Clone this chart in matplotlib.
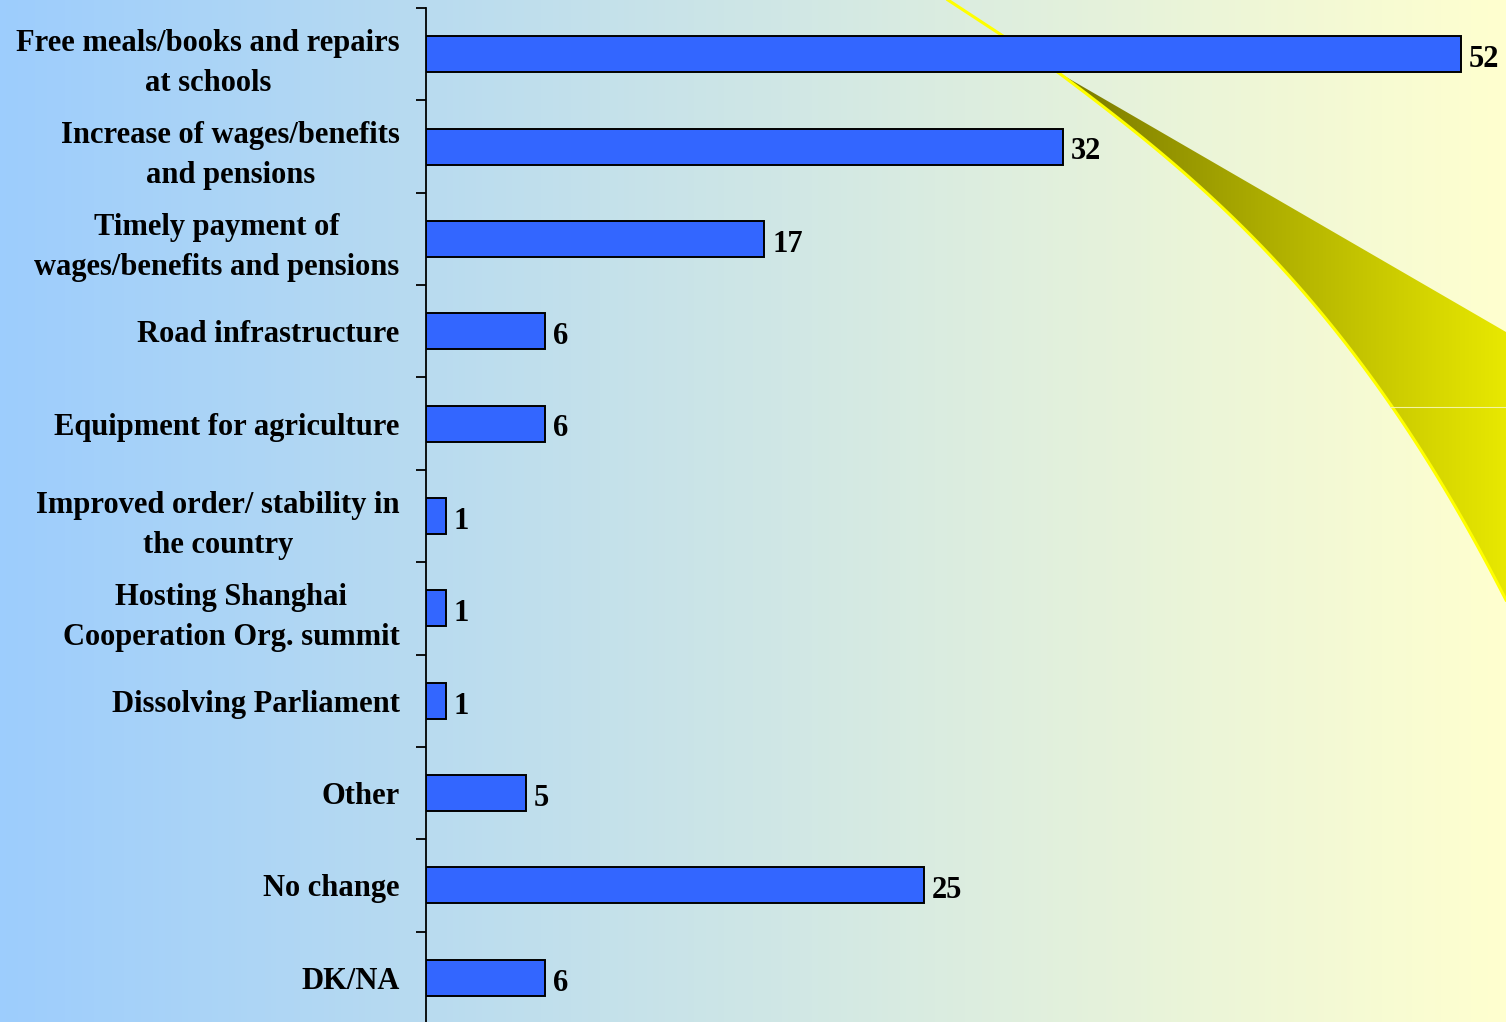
import numpy as np
import matplotlib.pyplot as plt
from matplotlib.colors import LinearSegmentedColormap
from matplotlib.patches import Polygon

# Data
categories = [
    "Free meals/books and repairs\nat schools",
    "Increase of wages/benefits\nand pensions",
    "Timely payment of\nwages/benefits and pensions",
    "Road infrastructure",
    "Equipment for agriculture",
    "Improved order/ stability in\nthe country",
    "Hosting Shanghai\nCooperation Org. summit",
    "Dissolving Parliament",
    "Other",
    "No change",
    "DK/NA",
]
values = [52, 32, 17, 6, 6, 1, 1, 1, 5, 25, 6]

W, H = 1506, 1022
fig = plt.figure(figsize=(W / 100, H / 100), dpi=100)

# background: horizontal gradient light blue -> pale yellow
bg = fig.add_axes([0, 0, 1, 1])
bg_cmap = LinearSegmentedColormap.from_list("bg", ["#9dcdfd", "#ffffcf"])
bg.imshow(np.linspace(0, 1, 256)[None, :], cmap=bg_cmap, aspect="auto",
          extent=[0, W, H, 0], zorder=0)

# decorative swoosh (pixel coords)
sx = [1058, 1170, 1287, 1383, 1453, 1506]
sy = [72, 162, 271, 396, 502, 600]
xs = np.linspace(1058, 1506, 80)
ys = np.polyval(np.polyfit(sx, sy, 3), xs)
outer = np.column_stack([xs, ys])
wedge = np.vstack([outer, [[1506, 332], [1054, 70]]])
poly = Polygon(wedge, closed=True, facecolor="none", edgecolor="none")
bg.add_patch(poly)
sw_cmap = LinearSegmentedColormap.from_list("sw", ["#767600", "#b0b000", "#e8e800"])
im = bg.imshow(np.linspace(0, 1, 256)[None, :], cmap=sw_cmap, aspect="auto",
               extent=[1050, W, 620, 60], zorder=1)
im.set_clip_path(poly)
bg.plot(xs, ys, color="#ffff00", lw=2.2, zorder=2)
bg.plot([948, 1058], [0, 72], color="#ffff00", lw=2.2, zorder=2)
bg.plot([1390, 1506], [407, 407], color="#f4f4a0", lw=0.8, zorder=2)
bg.set_xlim(0, W)
bg.set_ylim(H, 0)
bg.axis("off")

# main chart
ax = fig.add_axes([426 / W, -2 / H, 1 - 426 / W, 1 - 6 / H])
ax.set_facecolor("none")
y = np.arange(len(categories))
ax.barh(y, values, height=0.39, color="#3366ff", edgecolor="black", linewidth=1.4, zorder=3)
for yi, v in zip(y, values):
    ax.text(v + 0.4, yi + 0.02, str(v), va="center_baseline", ha="left", fontsize=22,
            fontweight="bold", family="Liberation Serif")

ax.set_xlim(0, 54.27)
ax.set_ylim(len(categories) - 0.5, -0.5)
ax.set_yticks(y)
ax.set_yticklabels(categories, fontsize=22, fontweight="bold", family="Liberation Serif",
                   multialignment="center", linespacing=1.5)
ax.set_yticks(np.arange(len(categories)) - 0.5, minor=True)
ax.tick_params(axis="y", which="major", length=0, pad=19)
ax.tick_params(axis="y", which="minor", length=7.5, width=1.3)
ax.set_xticks([])
for s in ["top", "right", "bottom"]:
    ax.spines[s].set_visible(False)
ax.spines["left"].set_linewidth(1.3)

fig.savefig("out.png", dpi=100)
